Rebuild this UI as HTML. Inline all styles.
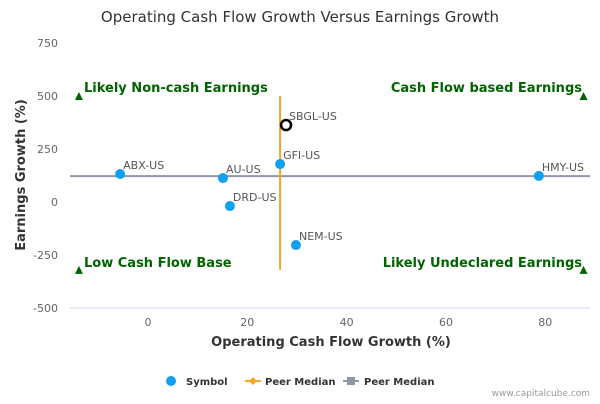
<!DOCTYPE html>
<html><head><meta charset="utf-8"><style>
body{margin:0;background:#fff;font-family:"DejaVu Sans",sans-serif}
svg text{font-family:"DejaVu Sans",sans-serif}
</style></head><body>
<svg id="c" width="600" height="400">
<rect width="600" height="400" fill="#fff"/>
<text x="300" y="22" text-anchor="middle" font-size="15" fill="#333">Operating Cash Flow Growth Versus Earnings Growth</text>
<g id="grid"></g><g id="marks"></g>
<text x="25" y="175" transform="rotate(-90 25 175)" text-anchor="middle" font-size="13" font-weight="bold" fill="#333">Earnings Growth (%)</text>
<text x="331" y="346" text-anchor="middle" font-size="13" font-weight="bold" fill="#333">Operating Cash Flow Growth (%)</text>
<g>
<g><circle cx="171" cy="381" r="5" fill="#0fa0f0"/><text x="186" y="385" font-size="10" font-weight="bold" fill="#333">Symbol</text></g>
<g><line x1="245" y1="381" x2="261" y2="381" stroke="#f5a623" stroke-width="2"/><path d="M253 377 L257 381 L253 385 L249 381Z" fill="#f5a623"/><text x="265" y="385" font-size="10" font-weight="bold" fill="#333">Peer Median</text></g>
<g><line x1="343" y1="381" x2="359" y2="381" stroke="#8f96a6" stroke-width="2"/><rect x="347" y="377" width="8" height="8" fill="#8f96a6"/><text x="364" y="385" font-size="10" font-weight="bold" fill="#333">Peer Median</text></g>
</g>
<text x="590" y="396" text-anchor="end" font-size="9" fill="#999">www.capitalcube.com</text>
</svg>
<script>
const symbols=["ABX-US","AU-US","DRD-US","GFI-US","SBGL-US","HMY-US","NEM-US"];
const cashGrowth=[-5.6,15.1,16.5,26.6,27.8,78.7,29.8];
const earnGrowth=[132,113,-19,179,363,123,-203];
const highlight=[false,false,false,false,true,false,false];
const medianX=26.6, medianY=122;
const xTicks=[0,20,40,60,80];
const yTicks=[750,500,250,0,-250,-500];
const quadLabels=["Likely Non-cash Earnings","Cash Flow based Earnings","Low Cash Flow Base","Likely Undeclared Earnings"];
const L=70,R=590,T=43,B=308,xMin=-15.7,xMax=89,yMin=-500,yMax=750;
const xs=v=>L+(v-xMin)/(xMax-xMin)*(R-L);
const ys=v=>B-(v-yMin)/(yMax-yMin)*(B-T);
const NS="http://www.w3.org/2000/svg";
const g=document.getElementById('grid'),m=document.getElementById('marks');
function mk(p,tag,a){const e=document.createElementNS(NS,tag);for(const k in a)e.setAttribute(k,a[k]);p.appendChild(e);return e;}
const ax=mk(g,'line',{x1:L,y1:B,x2:R,y2:B,stroke:'#ccd6eb'});


xTicks.forEach(v=>{const t=mk(g,'text',{x:xs(v),y:B+18,'text-anchor':'middle','font-size':11,fill:'#666'});t.textContent=v;

});
yTicks.forEach(v=>{const t=mk(g,'text',{x:58,y:ys(v)+4,'text-anchor':'end','font-size':11,fill:'#666'});t.textContent=v;

});
const hl=mk(m,'line',{x1:L,x2:R,y1:ys(medianY),y2:ys(medianY),stroke:'#8f96a6','stroke-width':2});


const vl=mk(m,'line',{x1:xs(medianX),x2:xs(medianX),y1:ys(500),y2:ys(-320),stroke:'#f5a623','stroke-width':2});


const qpos=[[xs(-13.9),ys(500),'start',84,92],[xs(87.7),ys(500),'end',582,92],[xs(-13.9),ys(-320),'start',84,267],[xs(87.7),ys(-320),'end',582,267]];
qpos.forEach((q,i)=>{const p=mk(m,'path',{d:`M${q[0]-4} ${q[1]+4} L${q[0]+4} ${q[1]+4} L${q[0]} ${q[1]-4}Z`,fill:'#006400'});


const t=mk(m,'text',{x:q[3],y:q[4],'text-anchor':q[2],'font-size':13,'font-weight':'bold',fill:'#006400'});t.textContent=quadLabels[i];

});
symbols.forEach((s,i)=>{const cx=xs(cashGrowth[i]),cy=ys(earnGrowth[i]);
const c=highlight[i]?mk(m,'circle',{cx,cy,r:5,fill:'#fff',stroke:'#000','stroke-width':2.5}):mk(m,'circle',{cx,cy,r:5,fill:'#0fa0f0'});


const t=mk(m,'text',{x:cx+3,y:cy-5,'font-size':11,fill:'#555'});t.textContent=s;

});
</script>
</body></html>
